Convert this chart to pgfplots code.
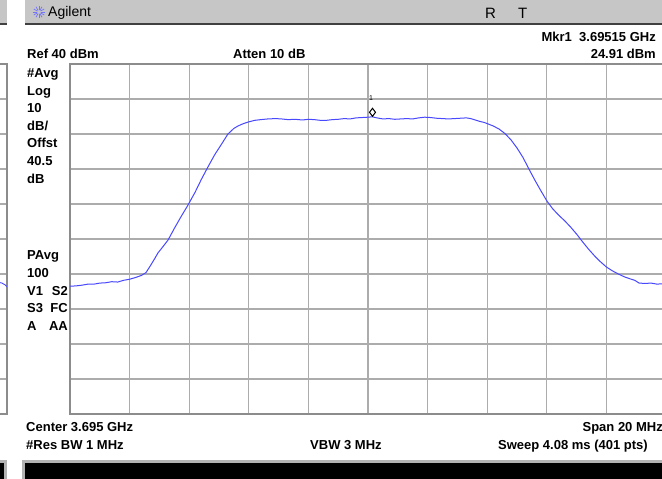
\documentclass[border=0pt]{standalone}
\usepackage{fontspec}
\setmainfont{Liberation Sans}
\usepackage{pgfplots}
\pgfplotsset{compat=1.18}
\definecolor{trace}{RGB}{72,72,255}
\definecolor{gridc}{RGB}{172,172,172}
\definecolor{framec}{RGB}{140,140,140}
\definecolor{bandc}{RGB}{198,198,198}
\newcommand{\lbl}{\fontsize{13}{15}\selectfont\bfseries}
\begin{document}
\begin{tikzpicture}
\path[use as bounding box] (0pt,0pt) rectangle (662pt,479pt);
\clip (0pt,0pt) rectangle (662pt,479pt);
\begin{scope}[x=1pt,y=1pt]
\fill[white] (0,0) rectangle (662,479);
% header bands
\fill[bandc] (25,455) rectangle (662,479);
\draw[black!75, line width=1.6pt] (25,455) -- (662,455);
\fill[bandc] (0,455) rectangle (7,479);
\draw[black!75, line width=1.6pt] (0,455) -- (7,455);
% logo
\foreach \a in {0,30,...,330}
  \draw[blue!55, line width=0.7pt] (39,467)+(\a:1.8) -- +(\a:6);
\node[anchor=base west, inner sep=0] at (48,462) {\fontsize{14}{16}\selectfont Agilent};
\node[anchor=base west, inner sep=0] at (485,460.5) {\fontsize{15}{17}\selectfont R};
\node[anchor=base west, inner sep=0] at (518,460.5) {\fontsize{15}{17}\selectfont T};
% bottom black bars
\fill[gray!60] (22,0) rectangle (662,19);
\fill[black] (25,0) rectangle (662,16);
\fill[gray!60] (0,0) rectangle (7,19);
\fill[black] (0,0) rectangle (4,16);
\end{scope}

% left sliver of another window
\begin{axis}[at={(7pt,65pt)}, anchor=south east, width=100pt, height=350pt, scale only axis,
  xmin=0, xmax=10, ymin=-60, ymax=40,
  xtick=\empty, ytick={-50,-40,...,30}, yticklabels={}, major tick length=0pt,
  ymajorgrids, grid style={gridc, line width=1.3pt},
  axis line style={framec, line width=1.6pt}]
\addplot[trace, line width=0.9pt] coordinates {(9.2,-22.4) (9.5,-22.6) (9.8,-23.1) (10,-23.6)};
\end{axis}

% main analyzer graticule
\begin{axis}[at={(70pt,65pt)}, anchor=south west, width=596pt, height=350pt, scale only axis,
  xmin=-10, xmax=10, ymin=-60, ymax=40,
  xtick={-8,-6,...,8}, ytick={-50,-40,...,30},
  xticklabels={}, yticklabels={}, major tick length=0pt,
  grid=major, grid style={gridc, line width=1.3pt},
  axis line style={framec, line width=2pt}, clip=false]
\addplot[trace, line width=1pt] coordinates {
(-10.0,-23.5) (-9.8,-23.4) (-9.6,-23.2) (-9.4,-22.9) (-9.2,-22.9) (-9.0,-22.6)
(-8.8,-22.5) (-8.6,-22.2) (-8.4,-22.3) (-8.2,-21.8) (-8.0,-21.5) (-7.8,-21.0)
(-7.6,-20.4) (-7.45,-19.6) (-7.3,-17.6) (-7.15,-15.5) (-7.05,-14.0) (-6.9,-12.4)
(-6.71,-10.3) (-6.5,-7.0) (-6.3,-4.0) (-6.04,-0.3) (-5.8,3.4) (-5.6,6.9)
(-5.37,10.6) (-5.15,14.0) (-4.9,17.3) (-4.7,20.0) (-4.5,21.6) (-4.36,22.3)
(-4.2,22.9) (-4.03,23.4) (-3.8,23.9) (-3.6,24.1) (-3.36,24.3) (-3.1,24.4)
(-2.9,24.3) (-2.68,24.1) (-2.45,24.2) (-2.2,24.0) (-2.0,24.2) (-1.8,24.1)
(-1.6,23.9) (-1.4,23.9) (-1.2,24.1) (-1.0,24.2) (-0.8,24.4) (-0.6,24.3)
(-0.4,24.6) (-0.2,24.7) (0.0,24.8) (0.15,24.91) (0.3,24.6) (0.5,24.3)
(0.7,24.4) (0.9,24.2) (1.1,24.3) (1.3,24.4) (1.5,24.3) (1.7,24.6)
(1.9,24.8) (2.1,24.7) (2.3,24.5) (2.5,24.4) (2.7,24.3) (2.9,24.4)
(3.1,24.5) (3.3,24.6) (3.45,24.4) (3.6,24.0) (3.75,23.6) (3.9,23.3)
(4.05,22.8) (4.2,22.3) (4.4,21.4) (4.6,20.1) (4.8,18.3) (5.0,16.0)
(5.2,13.3) (5.4,10.0) (5.6,6.8) (5.8,3.8) (6.0,0.9) (6.2,-1.4)
(6.4,-3.2) (6.6,-4.8) (6.8,-6.6) (7.0,-8.6) (7.2,-10.8) (7.4,-12.9)
(7.6,-14.8) (7.8,-16.5) (8.0,-18.0) (8.2,-19.1) (8.4,-20.0) (8.6,-20.8)
(8.8,-21.4) (8.95,-21.8) (9.1,-22.6) (9.3,-22.7) (9.5,-22.6) (9.7,-22.9)
(9.85,-22.8) (10.0,-23.0)};
\addplot[only marks, mark=diamond*, mark size=4pt, mark options={draw=black, fill=white, line width=1pt}]
  coordinates {(0.15,26.2)};
\node[inner sep=0] at (axis cs:0.1,30.3) {\fontsize{7}{8}\selectfont 1};
\end{axis}

% texts
\begin{scope}[x=1pt,y=1pt]
\node[anchor=base east, inner sep=0] at (656,437) {\lbl Mkr1\ \ 3.69515 GHz};
\node[anchor=base west, inner sep=0] at (27,420) {\lbl Ref 40 dBm};
\node[anchor=base west, inner sep=0] at (233,420) {\lbl Atten 10 dB};
\node[anchor=base east, inner sep=0] at (656,420) {\lbl 24.91 dBm};
\foreach \t [count=\i from 0] in {\#Avg,Log,10,dB/,Offst,40.5,dB}
  \node[anchor=base west, inner sep=0] at (27,401.5-17.6*\i) {\lbl \t};
\foreach \t [count=\i from 0] in {PAvg,100,V1,S3,A}
  \node[anchor=base west, inner sep=0] at (27,219-17.6*\i) {\lbl \t};
\node[anchor=base east, inner sep=0] at (68,183.8) {\lbl S2};
\node[anchor=base east, inner sep=0] at (68,166.2) {\lbl FC};
\node[anchor=base east, inner sep=0] at (68,148.6) {\lbl AA};
\node[anchor=base west, inner sep=0] at (26,47) {\lbl Center 3.695 GHz};
\node[anchor=base east, inner sep=0] at (663,47) {\lbl Span 20 MHz};
\node[anchor=base west, inner sep=0] at (26,29) {\lbl \#Res BW 1 MHz};
\node[anchor=base west, inner sep=0] at (310,29) {\lbl VBW 3 MHz};
\node[anchor=base west, inner sep=0] at (498,29) {\lbl Sweep 4.08 ms (401 pts)};
\end{scope}
\end{tikzpicture}
\end{document}
